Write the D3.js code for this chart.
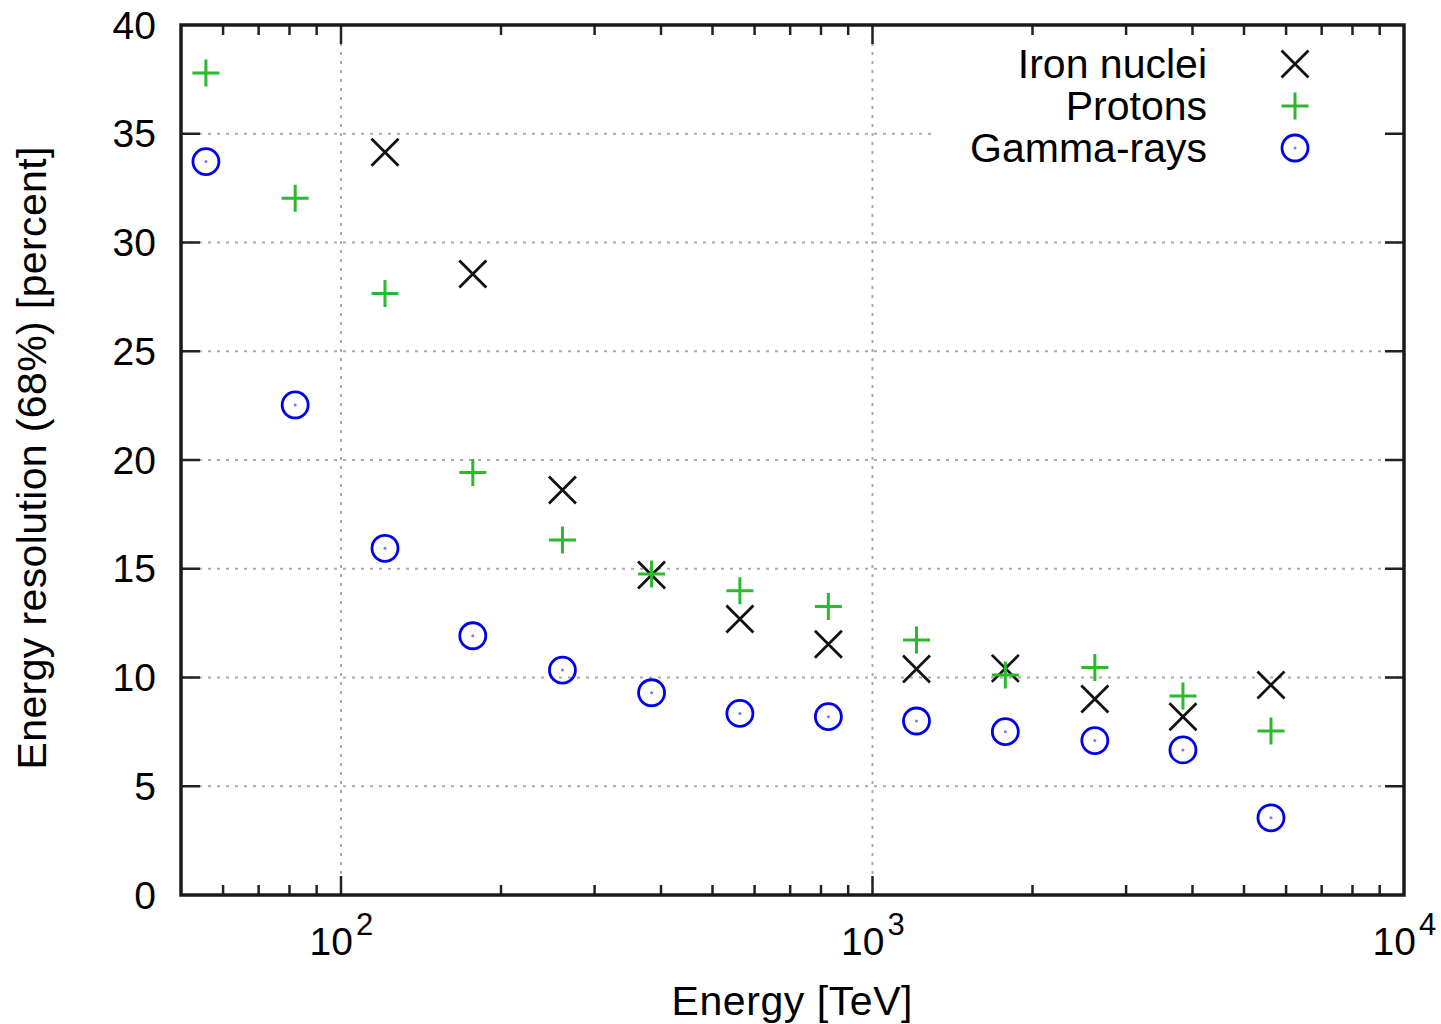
<!DOCTYPE html>
<html>
<head>
<meta charset="utf-8">
<script src="https://cdn.jsdelivr.net/npm/d3@7"></script>
<style>
  body { margin: 0; background: #fff; }
  text { font-family: "Liberation Sans", Arial, sans-serif; fill: #000; }
</style>
</head>
<body>
<div id="chart"></div>
<script>
// energy bins [TeV]
const energies = [55.7, 82.0, 121, 177, 261, 384, 563, 826, 1210, 1778, 2620, 3838, 5620];

// energy resolution (68%) [percent]
const iron = [null, null, 34.15, 28.55, 18.62, 14.71, 12.69, 11.53, 10.39, 10.42, 9.01, 8.20, 9.66];
const protons = [37.79, 32.03, 27.66, 19.43, 16.32, 14.76, 13.99, 13.26, 11.72, 10.11, 10.46, 9.15, 7.54];
const gammas = [33.72, 22.53, 15.94, 11.92, 10.34, 9.30, 8.35, 8.20, 8.00, 7.51, 7.10, 6.67, 3.55];

const seriesNames = ['Iron nuclei', 'Protons', 'Gamma-rays'];
const yTicks = [0, 5, 10, 15, 20, 25, 30, 35, 40];
const xMajor = [100, 1000, 10000];
const xMinor = [60, 70, 80, 90, 200, 300, 400, 500, 600, 700, 800, 900,
                2000, 3000, 4000, 5000, 6000, 7000, 8000, 9000];

const config = {
  width: 1441,
  height: 1024,
  margin: {top: 25, right: 37, bottom: 129, left: 181},
  majorTick: 19,
  minorTick: 10
};

const innerW = config.width - config.margin.left - config.margin.right;
const innerH = config.height - config.margin.top - config.margin.bottom;

const svg = d3.select('#chart').append('svg')
    .attr('width', config.width)
    .attr('height', config.height);

const chart = svg.append('g')
    .attr('transform', `translate(${config.margin.left},${config.margin.top})`);

const x = d3.scaleLog().domain([50, 10000]).range([0, innerW]);
const y = d3.scaleLinear().domain([0, 40]).range([innerH, 0]);

// grid lines (dotted grey)
chart.append('g').selectAll('line')
    .data(yTicks.filter(d => d > 0 && d < 40))
  .join('line')
    .attr('x1', 0).attr('x2', innerW)
    .attr('y1', d => y(d)).attr('y2', d => y(d))
    .attr('stroke', '#aaa').attr('stroke-width', 2)
    .attr('stroke-dasharray', '3,6');

chart.append('g').selectAll('line')
    .data(xMajor.filter(d => d < 10000))
  .join('line')
    .attr('x1', d => x(d)).attr('x2', d => x(d))
    .attr('y1', 0).attr('y2', innerH)
    .attr('stroke', '#aaa').attr('stroke-width', 2)
    .attr('stroke-dasharray', '3,6');

// legend background clears the grid
chart.append('rect')
    .attr('x', 750).attr('y', 2)
    .attr('width', innerW - 765).attr('height', 143)
    .attr('fill', '#fff');

// ticks, inward, mirrored on all four sides
const ticks = chart.append('g').attr('stroke', '#222').attr('stroke-width', 2.5);
yTicks.filter(d => d > 0 && d < 40).forEach(d => {
  ticks.append('line').attr('x1', 0).attr('x2', config.majorTick).attr('y1', y(d)).attr('y2', y(d));
  ticks.append('line').attr('x1', innerW).attr('x2', innerW - config.majorTick).attr('y1', y(d)).attr('y2', y(d));
});
xMajor.filter(d => d < 10000).forEach(d => {
  ticks.append('line').attr('x1', x(d)).attr('x2', x(d)).attr('y1', innerH).attr('y2', innerH - config.majorTick);
  ticks.append('line').attr('x1', x(d)).attr('x2', x(d)).attr('y1', 0).attr('y2', config.majorTick);
});
xMinor.forEach(d => {
  ticks.append('line').attr('x1', x(d)).attr('x2', x(d)).attr('y1', innerH).attr('y2', innerH - config.minorTick);
  ticks.append('line').attr('x1', x(d)).attr('x2', x(d)).attr('y1', 0).attr('y2', config.minorTick);
});

// frame
chart.append('rect')
    .attr('width', innerW).attr('height', innerH)
    .attr('fill', 'none').attr('stroke', '#1a1a1a').attr('stroke-width', 3.5);

// y tick labels
chart.append('g').selectAll('text')
    .data(yTicks)
  .join('text')
    .attr('x', -25)
    .attr('y', d => y(d))
    .attr('dy', '0.35em')
    .attr('text-anchor', 'end')
    .attr('font-size', 39)
    .text(d => d);

// x tick labels 10^n
chart.append('g').selectAll('text')
    .data(xMajor)
  .join('text')
    .attr('x', d => x(d) + 12)
    .attr('y', innerH + 60)
    .attr('text-anchor', 'end')
    .attr('font-size', 39)
    .text('10');
chart.append('g').selectAll('text')
    .data(xMajor)
  .join('text')
    .attr('x', d => x(d) + 15)
    .attr('y', innerH + 40)
    .attr('font-size', 31)
    .text(d => Math.round(Math.log10(d)));

// axis titles
chart.append('text')
    .attr('x', 611)
    .attr('y', innerH + 120)
    .attr('text-anchor', 'middle')
    .attr('font-size', 41)
    .attr('textLength', 241)
    .attr('lengthAdjust', 'spacing')
    .text('Energy [TeV]');

chart.append('text')
    .attr('transform', `translate(${-135},${innerH / 2 - 2}) rotate(-90)`)
    .attr('text-anchor', 'middle')
    .attr('font-size', 41)
    .attr('textLength', 623)
    .attr('lengthAdjust', 'spacing')
    .text('Energy resolution (68%) [percent]');

// markers
const s = 13.5;
function drawCross(g, cx, cy) {
  g.append('path')
      .attr('d', `M${cx - s},${cy - s}L${cx + s},${cy + s}M${cx - s},${cy + s}L${cx + s},${cy - s}`)
      .attr('stroke', '#111').attr('stroke-width', 2.8).attr('fill', 'none');
}
function drawPlus(g, cx, cy) {
  g.append('path')
      .attr('d', `M${cx - s},${cy}L${cx + s},${cy}M${cx},${cy - s}L${cx},${cy + s}`)
      .attr('stroke', '#2db82d').attr('stroke-width', 3).attr('fill', 'none');
}
function drawCircle(g, cx, cy) {
  g.append('circle')
      .attr('cx', cx).attr('cy', cy).attr('r', 13)
      .attr('stroke', '#0000f0').attr('stroke-width', 2.8).attr('fill', 'none');
  g.append('circle')
      .attr('cx', cx).attr('cy', cy).attr('r', 1.5)
      .attr('fill', '#7777ff');
}

const marks = chart.append('g');
const drawers = [drawCross, drawPlus, drawCircle];
[iron, protons, gammas].forEach((vals, k) => {
  vals.forEach((v, i) => {
    if (v == null) return;
    drawers[k](marks, x(energies[i]), y(v));
  });
});

// legend
seriesNames.forEach((name, k) => {
  const ly = 39 + k * 42;
  chart.append('text')
      .attr('x', 1026)
      .attr('y', ly)
      .attr('dy', '0.35em')
      .attr('text-anchor', 'end')
      .attr('font-size', 41)
      .text(name);
  drawers[k](chart, 1114, ly);
});
</script>
</body>
</html>
